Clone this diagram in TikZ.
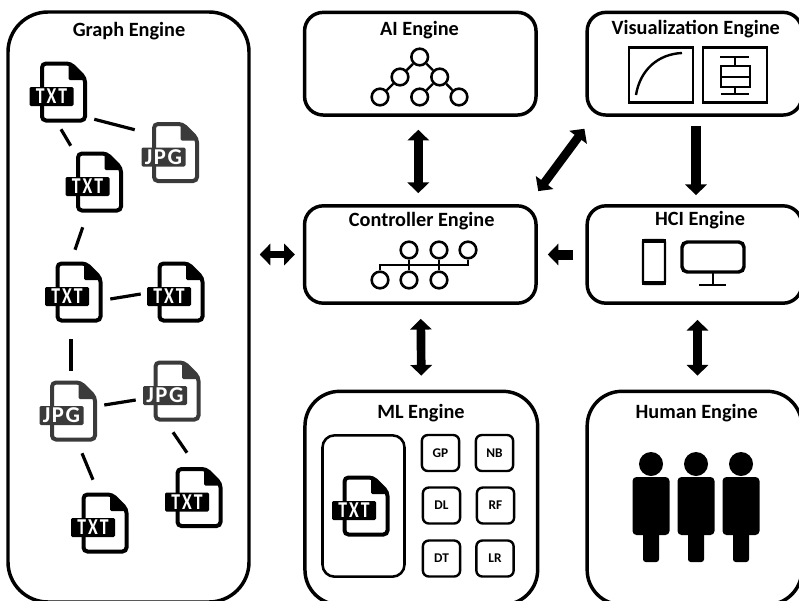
\documentclass[tikz,border=0pt]{standalone}
\usepackage{fontspec}
\setmainfont{Carlito}
\newfontfamily\tabfont[LetterSpace=9,FakeStretch=0.78]{Carlito}
\newfontfamily\jpgfont[LetterSpace=7]{Carlito}
\usetikzlibrary{arrows.meta,calc}
\definecolor{jpggray}{HTML}{3A3A3A}
\tikzset{
	engine/.style={draw,line width=2.6pt,inner sep=0pt},
	title/.style={font=\fontsize{15.2}{17}\selectfont\bfseries,inner sep=0pt},
	twoway/.style={line width=6.5pt,{Triangle[length=8pt,width=16pt]}-{Triangle[length=8pt,width=16pt]}},
	oneway/.style={line width=7.5pt,-{Triangle[length=8pt,width=16pt]}},
	link/.style={line width=2.4pt},
	circ/.style={circle,draw,line width=1.9pt,inner sep=0pt,minimum size=12.5pt},
	tree/.style={line width=1.8pt},
	chart/.style={draw,line width=2.2pt,inner sep=0pt,minimum width=48pt,minimum height=41pt},
	algo/.style={draw,line width=1.8pt,rounded corners=4.5pt,inner sep=0pt,minimum width=28pt,minimum height=27pt,font=\fontsize{10}{12}\selectfont\bfseries},
	filetab/.style={inner sep=0pt,rounded corners=1pt,text=white,minimum width=33pt,minimum height=14.25pt,font=\fontsize{17}{17}\selectfont\bfseries},
	filebody/.style={inner sep=0pt,minimum width=35.25pt,minimum height=45.75pt}
}
\newcommand{\docfile}[4]{
	\begin{scope}[shift={(#2)}]
		\draw[#4,line width=3pt,rounded corners=3pt,fill=white] (-21.5,-28.5) -- (7,-28.5) -- (21.5,-14) -- (21.5,28.5) -- (-21.5,28.5) -- cycle;
		\fill[#4,rounded corners=1pt] (5,-29) -- (22,-12) -- (5,-12) -- cycle;
		\node[filebody] (#1) at (0,0) {};
		\node[filetab,fill=#4] (#1tab) at (-12,4.5) {#3};
	\end{scope}
}
\newcommand{\txtlabel}{{\tabfont\bfseries TXT}}
\newcommand{\jpglabel}{{\jpgfont\bfseries JPG}}
\newcommand{\person}[2]{
	\node[circle,fill=black,inner sep=0pt,minimum size=18pt] (#1head) at (#2,464) {};
	\fill[rounded corners=3pt] (#2-18.5,477) rectangle (#2+18.5,535);
	\fill[rounded corners=2pt] (#2-8,530) rectangle (#2+8,562);
}
\begin{document}
\begin{tikzpicture}[x=0.75pt,y=-0.75pt]
	\useasboundingbox (0,0) rectangle (799,600);
	\clip (0,0) rectangle (799,600);

	% engine boxes
	\node[engine,rounded corners=30pt,minimum width=180.75pt,minimum height=442.5pt] (graphEng) at (128.5,307) {};
	\node[engine,rounded corners=14pt,minimum width=173.6pt,minimum height=77pt] (aiEng) at (420.3,63.7) {};
	\node[engine,rounded corners=14pt,minimum width=161pt,minimum height=77pt] (visEng) at (694.5,63.7) {};
	\node[engine,rounded corners=14pt,minimum width=173.6pt,minimum height=73pt] (ctrlEng) at (420.3,254.5) {};
	\node[engine,rounded corners=14pt,minimum width=161pt,minimum height=73pt] (hciEng) at (694.5,254.5) {};
	\node[engine,rounded corners=26pt,minimum width=174.5pt,minimum height=160pt] (mlEng) at (421.3,498) {};
	\node[engine,rounded corners=26pt,minimum width=161pt,minimum height=160pt] (humanEng) at (694.5,498) {};

	\node[title] (graphTitle) at (129,31) {Graph Engine};
	\node[title] (aiTitle) at (419.5,30) {AI Engine};
	\node[title] (visTitle) at (695.7,29.5) {Visualization Engine};
	\node[title] (ctrlTitle) at (421.7,221.5) {Controller Engine};
	\node[title] (hciTitle) at (700,220.5) {HCI Engine};
	\node[title] (mlTitle) at (421,413) {ML Engine};
	\node[title] (humanTitle) at (696.7,413) {Human Engine};

	% arrows
	\draw[twoway] ($(aiEng.south)+(-2,13)$) -- ($(ctrlEng.north)+(-2,-11)$);
	\draw[twoway] ($(ctrlEng.north east)+(0.5,-13)$) -- ($(visEng.south west)+(-1,12)$);
	\draw[oneway] ($(visEng.south)+(1.5,9)$) -- ($(hciEng.north)+(1.5,-9)$);
	\draw[oneway] ($(hciEng.west)+(-12,0)$) -- ($(ctrlEng.east)+(10,0)$);
	\draw[twoway,line width=5.5pt] ($(graphEng.east |- ctrlEng.west)+(9,0)$) -- ($(ctrlEng.west)+(-8,0)$);
	\draw[twoway] ($(ctrlEng.south)+(0.5,14)$) -- ($(mlEng.north)+(0,-14)$);
	\draw[twoway] ($(hciEng.south)+(3,15)$) -- ($(humanEng.north)+(3,-14)$);

	% graph of files
	\docfile{txtA}{63.5,92}{\txtlabel}{black}
	\docfile{jpgA}{175.5,152.5}{\jpglabel}{jpggray}
	\docfile{txtB}{99.5,182}{\txtlabel}{black}
	\docfile{txtC}{79,292}{\txtlabel}{black}
	\docfile{txtD}{181,292}{\txtlabel}{black}
	\docfile{jpgB}{73.5,411}{\jpglabel}{jpggray}
	\docfile{jpgC}{177,391}{\jpglabel}{jpggray}
	\docfile{txtE}{199,497.5}{\txtlabel}{black}
	\docfile{txtF}{105,523}{\txtlabel}{black}
	\draw[link] ($(txtA.south east)+(7,-3.5)$) -- ($(jpgA.north west)+(-17,8)$);
	\draw[link] ($(txtA.south)+(-2.5,6.5)$) -- ($(txtB.north west)+(-5,-5.5)$);
	\draw[link] ($(txtB.south west)+(7,14.5)$) -- ($(txtC.north)+(-4,-11.5)$);
	\draw[link] ($(txtC.east)+(7.5,7)$) -- ($(txtD.west)+(-16.5,2)$);
	\draw[link] ($(txtC.south)+(-8,16.5)$) -- ($(jpgB.north)+(-2.5,-9.5)$);
	\draw[link] ($(jpgB.east)+(7,-6)$) -- ($(jpgC.west)+(-17.5,9)$);
	\draw[link] ($(jpgC.south)+(-4,10.5)$) -- ($(txtE.north)+(-12,-14)$);
	\draw[link] ($(jpgB.south)+(8.5,11.5)$) -- ($(txtF.north)+(-12,-12.5)$);

	% AI tree
	\node[circ] (aiTop) at (419.7,57) {};
	\node[circ] (aiMidL) at (400,77) {};
	\node[circ] (aiMidR) at (439.7,77) {};
	\node[circ] (aiLowL) at (380,97) {};
	\node[circ] (aiLowM) at (419.7,97) {};
	\node[circ] (aiLowR) at (459,97) {};
	\draw[tree] (aiTop) -- (aiMidL) -- (aiLowL);
	\draw[tree] (aiTop) -- (aiMidR) -- (aiLowM);
	\draw[tree] (aiMidR) -- (aiLowR);

	% controller tree
	\node[circ] (ctA) at (409,250) {};
	\node[circ] (ctB) at (439,250) {};
	\node[circ] (ctC) at (468,250) {};
	\node[circ] (cbA) at (380,280) {};
	\node[circ] (cbB) at (409,280) {};
	\node[circ] (cbC) at (439,280) {};
	\coordinate (busL) at (380,265);
	\coordinate (busR) at (468,265);
	\draw[tree] (cbA) -- (busL) -- (busR) -- (ctC);
	\draw[tree] (ctA) -- (cbB);
	\draw[tree] (ctB) -- (cbC);

	% charts
	\node[chart] (curveBox) at (661,75) {};
	\node[chart] (boxBox) at (735,75) {};
	\draw[line width=1.8pt] (636,95) .. controls (640,70) and (658,54) .. (682,53);
	\draw[line width=1.5pt] (720,57) -- (749,57) (735,57) -- (735,66) (735,87) -- (735,94) (721,94) -- (749,94);
	\draw[line width=1.5pt] (721,66) rectangle (750,87) (721,76.5) -- (750,76.5);

	% phone and monitor
	\draw[line width=1.7pt,rounded corners=1.5pt] (643,240) rectangle (665,284);
	\fill (642,239) rectangle (666,243);
	\fill (642,281) rectangle (666,285);
	\draw[line width=2.6pt,rounded corners=4pt] (682,242) rectangle (744,272);
	\draw[line width=2.2pt] (713,273) -- (713,285) (699,285) -- (726,285);

	% ML parts
	\node[draw,line width=1.9pt,rounded corners=9pt,inner sep=0pt,minimum width=61.5pt,minimum height=106pt] (dataBox) at (363.5,506) {};
	\docfile{txtML}{366,506}{\txtlabel}{black}
	\node[algo] (gpBox) at (440.5,453) {GP};
	\node[algo] (nbBox) at (494.5,453) {NB};
	\node[algo] (dlBox) at (441.5,505.5) {DL};
	\node[algo] (rfBox) at (495.5,505.5) {RF};
	\node[algo] (dtBox) at (441.5,558.5) {DT};
	\node[algo] (lrBox) at (495,558.5) {LR};

	% people
	\person{manA}{651}
	\person{manB}{696}
	\person{manC}{741}
\end{tikzpicture}
\end{document}
